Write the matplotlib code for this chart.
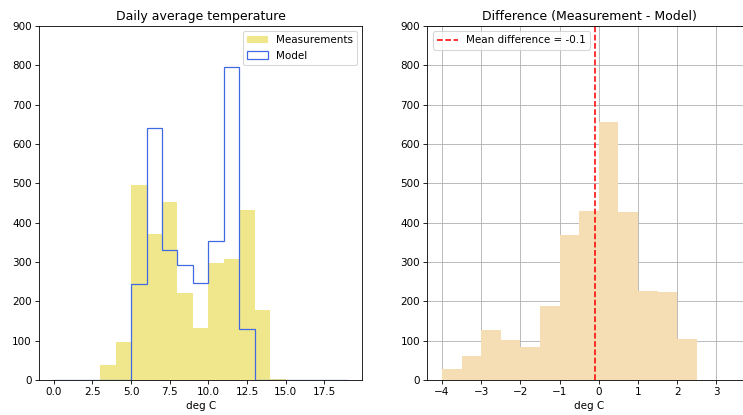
import numpy as np
import matplotlib
matplotlib.use("Agg")
import matplotlib.pyplot as plt

# Left panel: daily average temperature histograms (bin width 1 deg C)
temp_bin_edges = list(range(0, 20))
measurement_counts = [0, 0, 0, 38, 97, 496, 372, 453, 220, 133, 298, 308, 432, 178, 3, 0, 0, 0, 0]
model_counts = [0, 0, 0, 0, 0, 243, 641, 331, 293, 247, 353, 797, 130, 0, 0, 0, 0, 0, 0]

# Right panel: difference histogram (bin width 0.5 deg C)
diff_bin_edges = [-4.0, -3.5, -3.0, -2.5, -2.0, -1.5, -1.0, -0.5, 0.0, 0.5, 1.0, 1.5, 2.0, 2.5, 3.0, 3.5]
diff_counts = [27, 62, 127, 102, 83, 188, 369, 429, 657, 426, 226, 224, 104, 0, 0]
mean_diff = -0.09

DPI = 75
fig = plt.figure(figsize=(743 / DPI, 415 / DPI), dpi=DPI)
ax1 = fig.add_axes([39 / 743, 1 - 380 / 415, 323.3 / 743, 354 / 415])
ax2 = fig.add_axes([427.3 / 743, 1 - 380 / 415, 323.3 / 743, 354 / 415])

centers_t = np.array(temp_bin_edges[:-1]) + 0.5
ax1.hist(centers_t, bins=temp_bin_edges, weights=measurement_counts,
         color="khaki", label="Measurements")
ax1.hist(centers_t, bins=temp_bin_edges, weights=model_counts,
         histtype="step", color="royalblue", linewidth=1.2, label="Model")
ax1.set_ylim(0, 900)
ax1.set_title("Daily average temperature")
ax1.set_xlabel("deg C")
ax1.legend(loc="upper right")

centers_d = np.array(diff_bin_edges[:-1]) + 0.25
ax2.set_axisbelow(True)
ax2.grid(True)
ax2.hist(centers_d, bins=diff_bin_edges, weights=diff_counts, color="wheat")
ax2.axvline(mean_diff, color="red", linestyle="--",
            label=f"Mean difference = {mean_diff:.1f}")
ax2.set_ylim(0, 900)
ax2.set_title("Difference (Measurement - Model)")
ax2.set_xlabel("deg C")
ax2.legend(loc="upper left")

fig.savefig("out.png", dpi=DPI)
